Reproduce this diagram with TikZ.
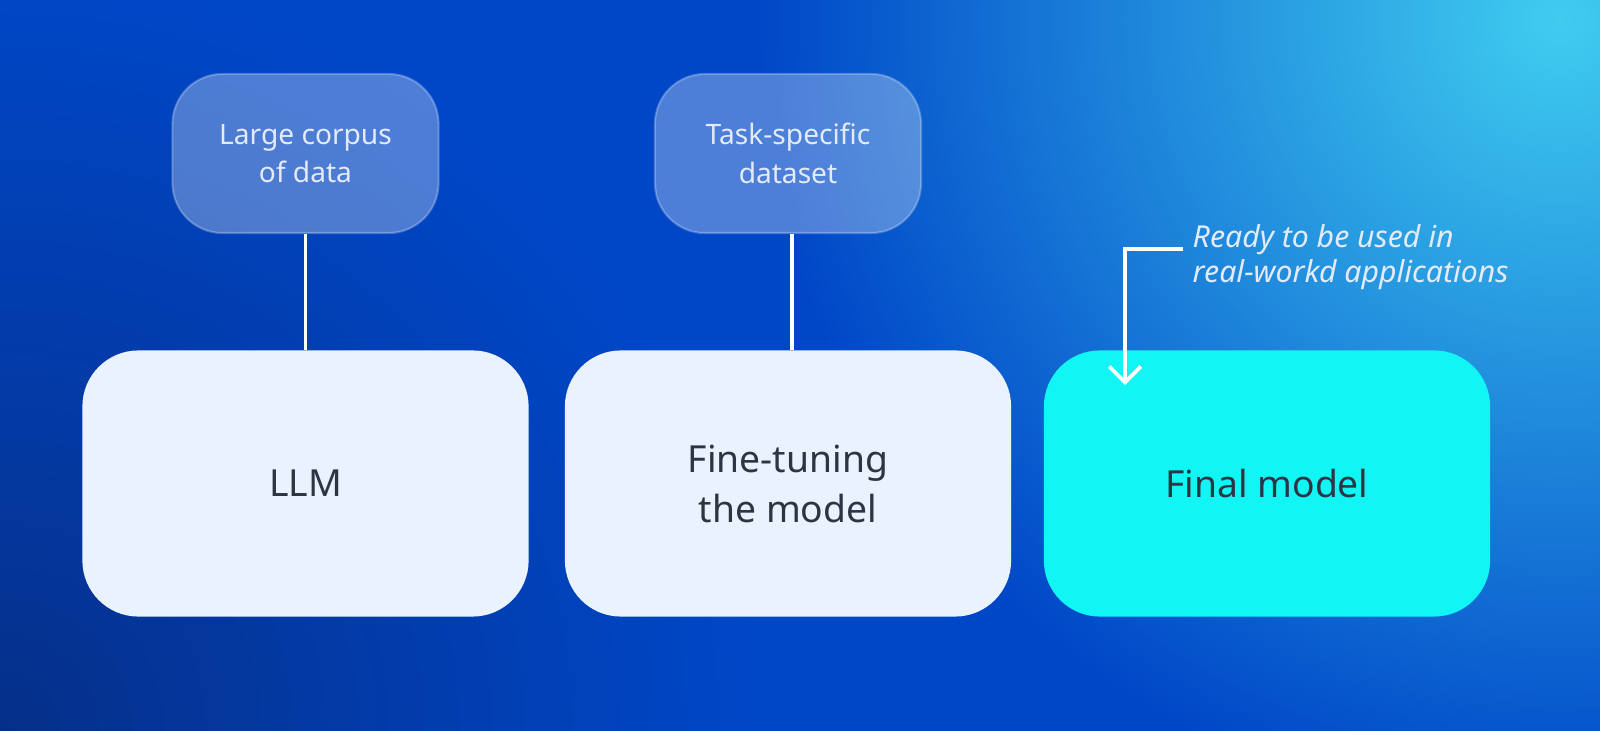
\documentclass[tikz,border=0pt]{standalone}
\usepackage{fontspec}
\setmainfont{Noto Sans}
\usetikzlibrary{arrows.meta,fadings}
\definecolor{bgmid}{HTML}{0047C8}
\definecolor{bglight}{HTML}{40CDF0}
\definecolor{bgdark}{HTML}{06308A}
\definecolor{boxlight}{HTML}{EAF2FE}
\definecolor{boxcyan}{HTML}{12F5F5}
\definecolor{txtdark}{HTML}{2B3544}
\definecolor{txtlight}{HTML}{E3EBFA}
\tikzfading[name=glowfade, inner color=transparent!0, outer color=transparent!100]
\begin{document}
\begin{tikzpicture}[x=0.01cm,y=-0.01cm,
  bigbox/.style={rounded corners=0.56cm, minimum width=4.46cm, minimum height=2.66cm,
    inner sep=0pt, align=center, text=txtdark, font=\fontsize{10.6}{14.2}\selectfont},
  smallbox/.style={rounded corners=0.5cm, minimum width=2.66cm, minimum height=1.59cm,
    inner sep=0pt, fill=white, fill opacity=0.3, text opacity=1, draw=white, draw opacity=0.25,
    line width=0.6pt, text=txtlight, align=center, font=\fontsize{8}{11}\selectfont},
  link/.style={draw=white, line width=1.1pt},
  note/.style={inner sep=0pt, align=left, text=txtlight, font=\itshape\fontsize{8.6}{10}\selectfont}]
\useasboundingbox (0,0) rectangle (1600,731);
\fill[bgmid] (0,0) rectangle (1600,731);
\begin{scope}
  \clip (0,0) rectangle (1600,731);
  \fill[bglight, path fading=glowfade] (1560,20) circle (800);
  \fill[bgdark, path fading=glowfade] (0,731) circle (750);
\end{scope}
\node[bigbox, fill=boxlight] (llm) at (305.5,483.5) {LLM};
\node[bigbox, fill=boxlight] (ft) at (788,483.5) {Fine-tuning\\the model};
\node[bigbox, fill=boxcyan] (fm) at (1267,483.5) {Final model};
\node[smallbox] (corpus) at (305.5,153.5) {Large corpus\\of data};
\node[smallbox] (task) at (788,153.5) {Task-specific\\dataset};
\draw[link] (corpus.south) -- (llm.north);
\draw[link] ([xshift=0.04cm]task.south) -- ([xshift=0.04cm]ft.north);
\node[note, anchor=north west] (ready) at (1192,224) {Ready to be used in\\real-workd applications};
\coordinate (astart) at (1183,249);
\coordinate (aend) at (1125,385);
\draw[link, -{Straight Barb[length=4.5pt,width=9pt]}] (astart) -| (aend);
\end{tikzpicture}
\end{document}
